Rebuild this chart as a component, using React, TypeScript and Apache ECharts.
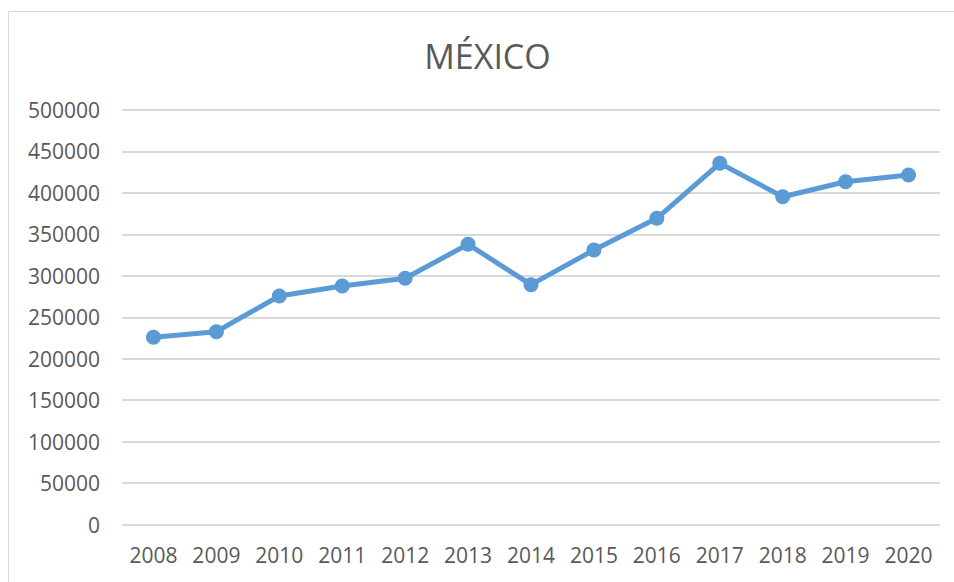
import React, { useEffect, useRef } from "react";
import * as echarts from "echarts";

const years = ["2008", "2009", "2010", "2011", "2012", "2013", "2014", "2015", "2016", "2017", "2018", "2019", "2020"];
const values = [225800, 232600, 275600, 287700, 297000, 338000, 289300, 331100, 369400, 435700, 395400, 413500, 421600];
const titleText = "MÉXICO";
const yMin = 0;
const yMax = 500000;
const yStep = 50000;

export default function App() {
  const ref = useRef<HTMLDivElement>(null);
  useEffect(() => {
    document.body.style.margin = "0";
    const chart = echarts.init(ref.current!, null, { renderer: "svg" });
    const font = "'Open Sans', sans-serif";
    chart.setOption({
      animation: false,
      backgroundColor: "#ffffff",
      graphic: [
        {
          type: "rect",
          shape: { x: 8.5, y: 11.5, width: 1000, height: 1000 },
          style: { fill: "none", stroke: "#d9d9d9", lineWidth: 1 },
          silent: true,
        },
        {
          type: "text",
          x: 487.5,
          y: 56,
          style: {
            text: titleText,
            fontFamily: font,
            fontSize: 34,
            fill: "#595959",
            textAlign: "center",
            textVerticalAlign: "middle",
          },
        },
      ],
      grid: { left: 122, right: 14, top: 110, bottom: 57.5 },
      xAxis: {
        type: "category",
        data: years,
        boundaryGap: true,
        axisLine: { show: false },
        axisTick: { show: false },
        axisLabel: { color: "#595959", fontFamily: font, fontSize: 21, margin: 20 },
      },
      yAxis: {
        type: "value",
        min: yMin,
        max: yMax,
        interval: yStep,
        axisLine: { show: false },
        axisTick: { show: false },
        splitLine: { lineStyle: { color: "#d9d9d9", width: 2 } },
        axisLabel: {
          color: "#595959",
          fontFamily: font,
          fontSize: 21,
          margin: 22,
          formatter: (v: number) => String(v),
        },
      },
      series: [
        {
          type: "line",
          data: values,
          color: "#5B9BD5",
          lineStyle: { width: 5, color: "#5B9BD5" },
          itemStyle: { color: "#5B9BD5" },
          symbol: "circle",
          symbolSize: 15,
        },
      ],
    });
    return () => chart.dispose();
  }, []);
  return <div ref={ref} style={{ position: "fixed", left: 0, top: 0, width: 954, height: 582 }} />;
}
